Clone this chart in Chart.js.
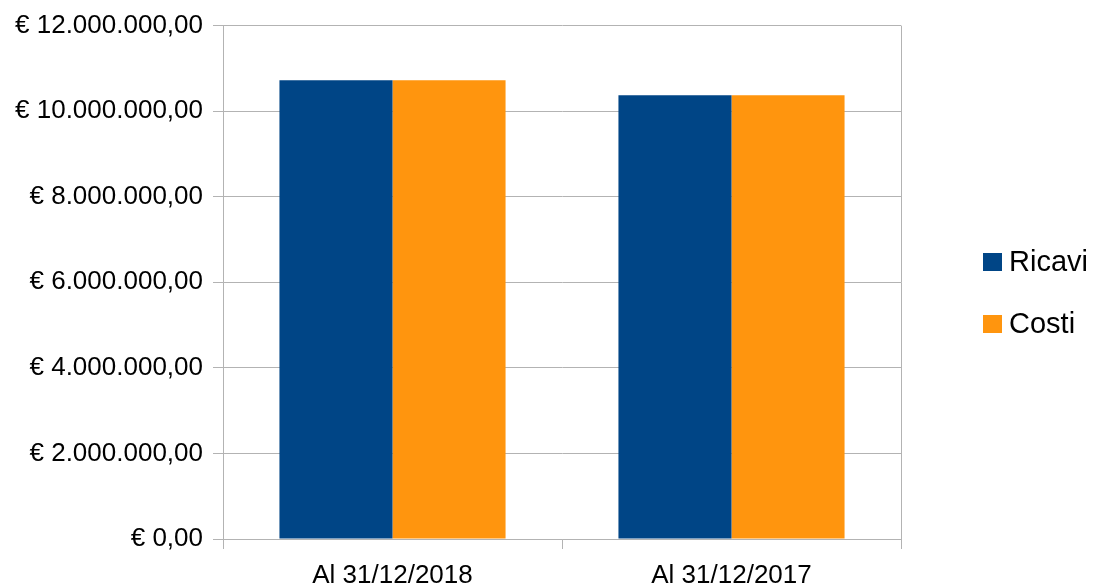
<!DOCTYPE html>
<html>
<head>
<meta charset="utf-8">
<script src="https://cdn.jsdelivr.net/npm/chart.js@4/dist/chart.umd.min.js"></script>
<style>
html,body{margin:0;padding:0;background:#fff;}
#wrap{width:1100px;height:584px;position:relative;}
</style>
</head>
<body>
<div id="wrap"><canvas id="c" width="1100" height="584"></canvas></div>
<script>
const categories = ["Al 31/12/2018", "Al 31/12/2017"];
const ricavi = [10720000, 10370000];
const costi = [10720000, 10370000];
const seriesNames = ["Ricavi", "Costi"];
const yTicks = [0, 2000000, 4000000, 6000000, 8000000, 10000000, 12000000];

const FONT = "'Liberation Sans', Arial, sans-serif";
const GRID = '#b3b3b3';

function fmtEuro(v) {
  const s = Math.round(v).toString().replace(/\B(?=(\d{3})+(?!\d))/g, '.');
  return '€ ' + s + ',00';
}

const legendPlugin = {
  id: 'customLegend',
  afterDraw(chart) {
    const ctx = chart.ctx;
    const ds = chart.data.datasets;
    const ys = [262, 324];
    ctx.save();
    ctx.font = '29px ' + FONT;
    ctx.textBaseline = 'middle';
    ctx.textAlign = 'left';
    ds.forEach((d, i) => {
      ctx.fillStyle = d.backgroundColor;
      ctx.fillRect(983, ys[i] - 9, 19, 18);
      ctx.fillStyle = '#000';
      ctx.fillText(d.label, 1009, ys[i] + 1);
    });
    ctx.restore();
  }
};

new Chart(document.getElementById('c'), {
  type: 'bar',
  data: {
    labels: categories,
    datasets: [
      { label: seriesNames[0], data: ricavi, backgroundColor: '#004586' },
      { label: seriesNames[1], data: costi, backgroundColor: '#ff950e' }
    ]
  },
  options: {
    responsive: false,
    animation: false,
    devicePixelRatio: 1,
    layout: { padding: { left: 0, right: 199, top: 24, bottom: 0 } },
    plugins: { legend: { display: false }, tooltip: { enabled: false } },
    datasets: { bar: { categoryPercentage: 0.667, barPercentage: 1.0 } },
    scales: {
      x: {
        grid: {
          offset: true,
          color: (c) => (c.index === 1 ? 'rgba(0,0,0,0)' : GRID),
          tickColor: GRID,
          tickLength: 10,
          lineWidth: 1
        },
        border: { display: true, color: GRID },
        ticks: { color: '#000', font: { family: FONT, size: 26 }, padding: 11 },
        afterFit(s) { s.height = 45; }
      },
      y: {
        min: 0,
        max: 12000000,
        afterBuildTicks(s) { s.ticks = yTicks.map(v => ({ value: v })); },
        grid: { color: GRID, tickColor: GRID, tickLength: 10, lineWidth: 1 },
        border: { display: true, color: GRID },
        ticks: {
          color: '#000',
          font: { family: FONT, size: 26 },
          padding: 10,
          callback: (v) => fmtEuro(v)
        },
        afterFit(s) { s.width = 223; }
      }
    }
  },
  plugins: [legendPlugin]
});
</script>
</body>
</html>
